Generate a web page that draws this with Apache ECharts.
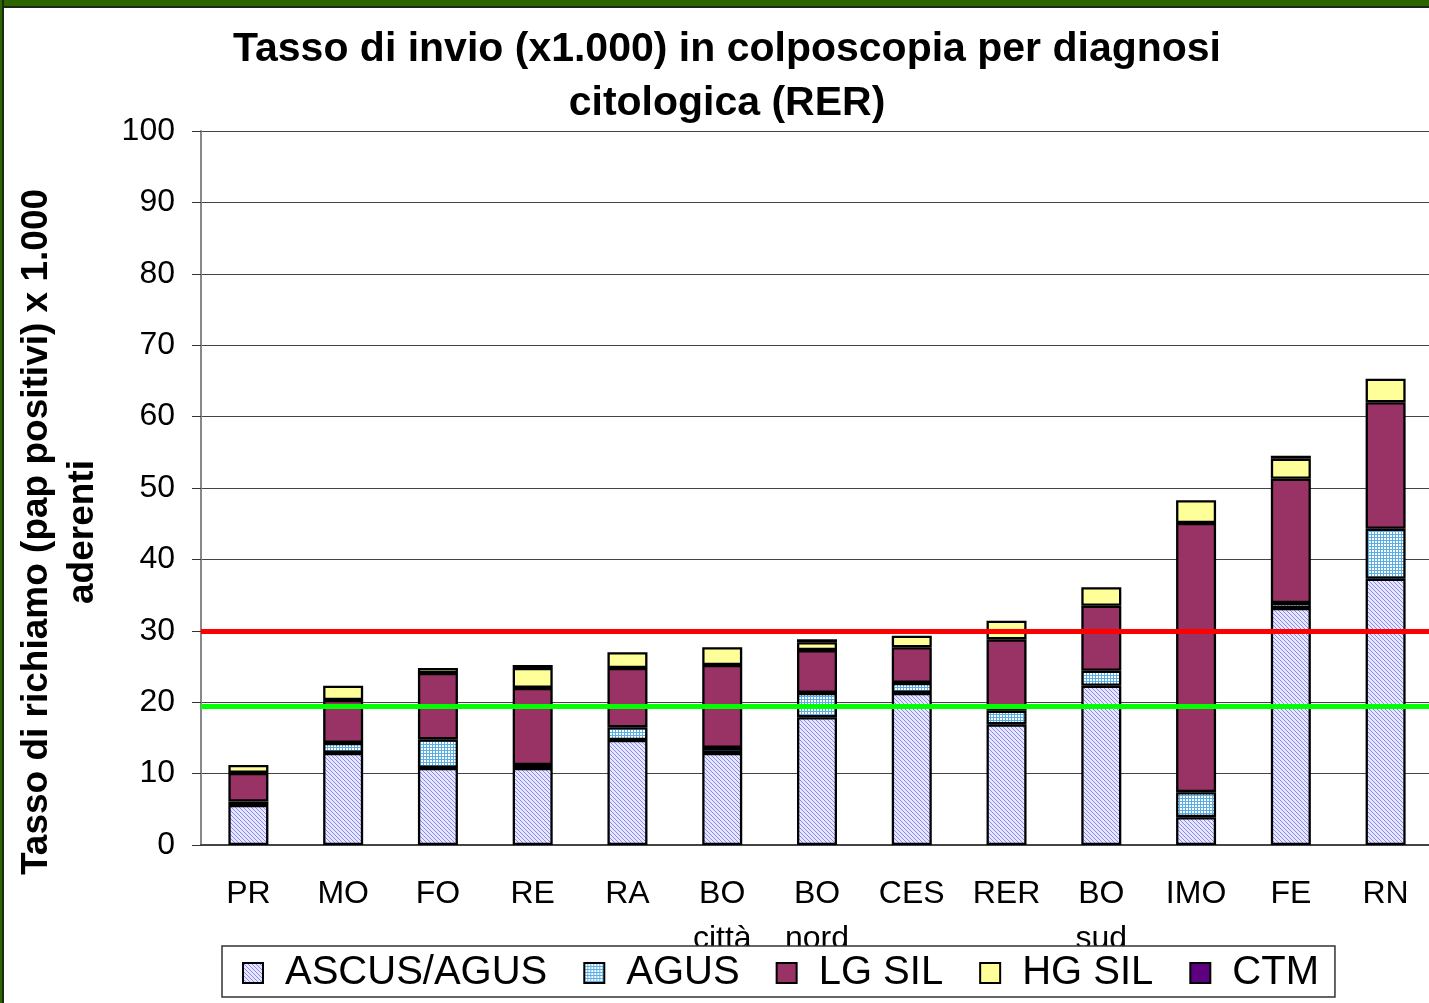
<!DOCTYPE html>
<html>
<head>
<meta charset="utf-8">
<title>Tasso di invio in colposcopia</title>
<script src="https://cdn.jsdelivr.net/npm/echarts@6/dist/echarts.min.js"></script>
<style>
  body { margin: 0; background: #fff; }
  #chart { position: absolute; left: 0; top: 0; width: 1429px; height: 1003px; }
  .frame-top { position: absolute; left: 0; top: 0; width: 1429px; height: 6px; background: #2d6600; border-bottom: 2px solid #1c2a10; z-index: 5; }
  .frame-left { position: absolute; left: 0; top: 0; width: 2px; height: 1003px; background: #2d6600; border-right: 2px solid #1c2a10; z-index: 5; }
</style>
</head>
<body>
<div id="chart"></div>
<div class="frame-top"></div>
<div class="frame-left"></div>
<script>
// categorie (ASL)
const categories = ['PR', 'MO', 'FO', 'RE', 'RA', 'BO\ncittà', 'BO\nnord', 'CES', 'RER', 'BO\nsud', 'IMO', 'FE', 'RN']
// valori per diagnosi citologica (x1.000)
const ascusAgus = [5.6, 12.9, 10.8, 10.8, 14.7, 12.9, 17.9, 21.3, 16.9, 22.3, 3.9, 33.2, 37.3]
const agus = [0.5, 1.4, 4.0, 0.4, 1.8, 0.7, 3.4, 1.4, 1.9, 2.1, 3.5, 0.7, 7.0]
const lgSil = [4.0, 6.0, 9.3, 10.8, 8.3, 11.6, 6.0, 5.0, 10.0, 9.1, 37.7, 17.4, 17.7]
const hgSil = [1.1, 2.0, 0.7, 2.8, 2.2, 2.5, 1.1, 1.6, 2.6, 2.6, 3.2, 2.8, 3.3]
const ctm = [0, 0, 0, 0.4, 0, 0, 0.4, 0, 0, 0, 0, 0.4, 0]
// linee di riferimento
const redLine = 30
const greenLine = 19.5

const FONT = '"Liberation Sans", Arial, sans-serif'

// retino diagonale (ASCUS/AGUS)
function diagPattern() {
  const c = document.createElement('canvas')
  c.width = 4
  c.height = 4
  const ctx = c.getContext('2d')
  ctx.fillStyle = '#e6e6ff'
  ctx.fillRect(0, 0, 4, 4)
  ctx.fillStyle = '#8a8aee'
  for (let i = 0; i < 4; i++) {
    ctx.fillRect(i, i, 1, 1)
  }
  return { image: c, repeat: 'repeat' }
}

// retino a griglia (AGUS)
function gridPattern() {
  const c = document.createElement('canvas')
  c.width = 3
  c.height = 3
  const ctx = c.getContext('2d')
  ctx.fillStyle = '#ffffff'
  ctx.fillRect(0, 0, 3, 3)
  ctx.fillStyle = '#5aaee4'
  ctx.fillRect(0, 0, 3, 1)
  ctx.fillRect(0, 0, 1, 3)
  return { image: c, repeat: 'repeat' }
}

function barSeries(name, data, color) {
  return {
    name: name,
    type: 'bar',
    stack: 'tot',
    barWidth: 40,
    // i valori nulli non vengono disegnati
    data: data.map(v => (v === 0 ? '-' : v)),
    itemStyle: {
      color: color,
      borderColor: '#000',
      borderWidth: 2.3
    }
  }
}

const myChart = echarts.init(document.getElementById('chart'))

const series = [
  barSeries('ASCUS/AGUS', ascusAgus, diagPattern()),
  barSeries('AGUS', agus, gridPattern()),
  barSeries('LG SIL', lgSil, '#993366'),
  barSeries('HG SIL', hgSil, '#ffff99'),
  barSeries('CTM', ctm, '#5c0080')
]
// linee rossa e verde
series[4].markLine = {
  silent: true,
  symbol: 'none',
  label: { show: false },
  data: [
    { yAxis: redLine, lineStyle: { color: '#ff0000', width: 5, type: 'solid' } },
    { yAxis: greenLine, lineStyle: { color: '#00ff00', width: 5, type: 'solid' } }
  ]
}

const option = {
  backgroundColor: '#fff',
  animation: false,
  title: {
    text: 'Tasso di invio (x1.000) in colposcopia per diagnosi\ncitologica (RER)',
    left: 722,
    top: 18,
    textAlign: 'center',
    textStyle: {
      fontFamily: FONT,
      fontSize: 41,
      fontWeight: 'bold',
      color: '#000',
      lineHeight: 54
    }
  },
  legend: {
    left: 222,
    top: 946,
    padding: [5, 16, 2, 20],
    itemGap: 36,
    itemWidth: 20,
    itemHeight: 20,
    icon: 'rect',
    backgroundColor: '#fff',
    borderColor: '#333',
    borderWidth: 1.5,
    textStyle: {
      fontFamily: FONT,
      fontSize: 40,
      color: '#000',
      lineHeight: 44,
      padding: [0, 0, 0, 17]
    }
  },
  grid: {
    left: 201,
    top: 131,
    width: 1232,
    bottom: 158,
    // il grafico esce dal bordo destro come nell'originale
    outerBoundsMode: 'none'
  },
  xAxis: {
    type: 'category',
    data: categories,
    axisLine: { lineStyle: { color: '#444', width: 2 } },
    axisTick: { length: 10, lineStyle: { color: '#555' } },
    axisLabel: {
      interval: 0,
      margin: 27,
      fontFamily: FONT,
      fontSize: 32,
      lineHeight: 45,
      color: '#000'
    }
  },
  yAxis: {
    type: 'value',
    min: 0,
    max: 100,
    interval: 10,
    axisLine: { show: true, lineStyle: { color: '#888', width: 2 } },
    axisTick: { show: true, length: 9, lineStyle: { color: '#333' } },
    axisLabel: {
      margin: 26,
      fontFamily: FONT,
      fontSize: 32,
      color: '#000'
    },
    splitLine: { lineStyle: { color: '#444', width: 1.2 } }
  },
  graphic: [
    {
      type: 'text',
      x: 60,
      y: 532,
      rotation: Math.PI / 2,
      style: {
        text: 'Tasso di richiamo (pap positivi) x 1.000\naderenti',
        fontFamily: FONT,
        fontSize: 37,
        fontWeight: 'bold',
        lineHeight: 46,
        textAlign: 'center',
        textVerticalAlign: 'middle',
        fill: '#000'
      }
    }
  ],
  series: series
}

myChart.setOption(option)
</script>
</body>
</html>
